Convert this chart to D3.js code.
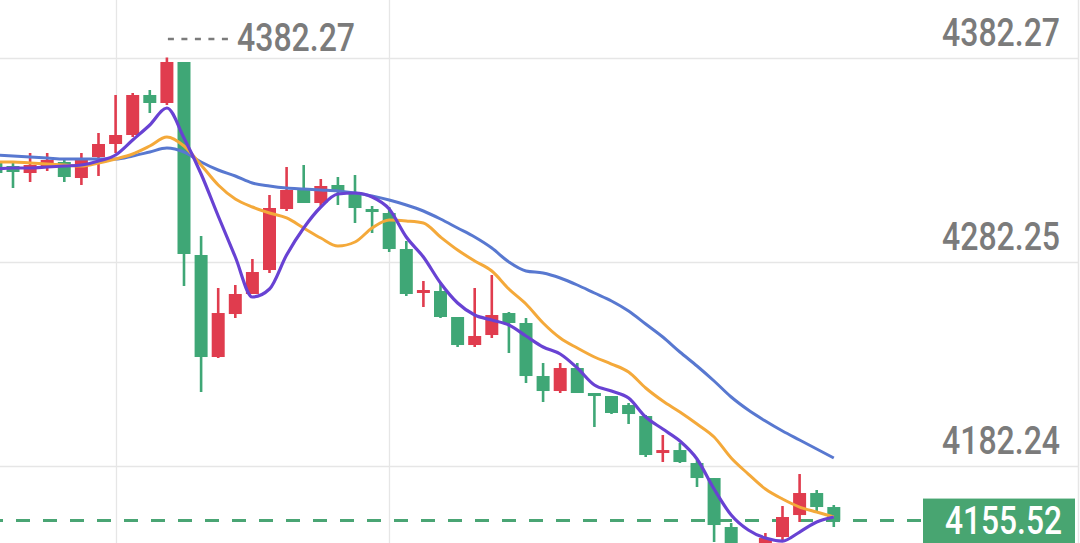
<!DOCTYPE html>
<html>
<head>
<meta charset="utf-8">
<script src="https://cdn.jsdelivr.net/npm/d3@7"></script>
<style>
  html, body { margin: 0; padding: 0; background: #ffffff; overflow: hidden; }
  svg { display: block; }
  .lbl { font-family: "Roboto", "DejaVu Sans", sans-serif; }
</style>
</head>
<body>
<svg id="chart" width="1080" height="543"></svg>
<script>
// ---- Data ----
const candleOpen  = [4331.10,4329.14,4325.71,4329.14,4331.10,4323.26,4333.55,4339.91,4344.32,4363.91,4359.99,4380.07,4285.56,4235.61,4256.66,4266.46,4278.21,4308.08,4317.39,4311.02,4319.84,4316.41,4308.08,4306.12,4288.49,4266.95,4267.93,4255.20,4241.48,4246.38,4257.15,4252.26,4226.30,4218.96,4230.22,4217.98,4216.51,4212.10,4206.71,4188.60,4190.06,4183.70,4176.35,4152.36,4140.12,4133.75,4147.46,4158.23,4169.01,4162.15];
const candleHigh  = [4332.08,4330.61,4335.51,4335.51,4332.08,4335.51,4345.30,4363.91,4364.89,4366.36,4382.27,4380.07,4294.86,4269.40,4270.87,4283.60,4314.94,4328.65,4329.63,4322.77,4323.75,4324.73,4309.55,4309.06,4292.41,4272.82,4272.33,4255.20,4269.40,4275.76,4257.64,4254.71,4232.67,4232.67,4232.67,4217.98,4216.51,4213.08,4207.20,4197.41,4193.49,4185.17,4176.35,4154.32,4143.05,4149.42,4162.64,4178.31,4170.48,4163.13];
const candleLow   = [4324.24,4318.37,4321.30,4326.69,4321.30,4319.84,4324.24,4335.51,4343.34,4355.09,4359.01,4270.38,4218.47,4235.12,4254.71,4266.46,4276.74,4307.10,4311.02,4309.55,4310.04,4301.23,4296.33,4287.03,4265.48,4260.09,4254.71,4240.50,4240.50,4244.91,4237.57,4222.87,4213.57,4217.98,4217.98,4201.33,4207.69,4202.80,4186.64,4184.19,4183.70,4171.95,4145.01,4136.20,4128.85,4130.32,4145.99,4154.81,4159.70,4152.36];
const candleClose = [4325.71,4326.20,4329.63,4332.08,4323.75,4333.06,4339.91,4344.32,4363.91,4359.99,4380.07,4286.05,4235.61,4257.15,4266.46,4277.23,4308.57,4317.39,4311.02,4319.35,4316.41,4308.57,4306.61,4288.49,4266.46,4268.42,4255.20,4241.48,4245.89,4256.17,4252.26,4226.30,4218.96,4230.22,4217.98,4216.51,4208.19,4207.69,4187.62,4190.06,4184.19,4176.35,4153.34,4141.09,4132.28,4146.97,4157.26,4169.01,4162.15,4155.52];

const ma5  = [4327.67,4328.16,4328.16,4328.65,4329.14,4329.63,4331.59,4334.53,4341.87,4349.22,4357.54,4342.85,4325.22,4304.65,4284.58,4264.99,4268.91,4285.56,4298.78,4309.06,4315.43,4315.92,4313.96,4308.08,4294.37,4284.58,4271.84,4262.05,4256.17,4253.73,4251.28,4245.89,4240.50,4237.08,4230.22,4221.90,4218.96,4215.53,4206.22,4200.35,4194.47,4185.66,4170.97,4158.23,4150.89,4146.97,4145.50,4149.91,4154.81,4157.26];
const ma10 = [4331.10,4331.10,4330.61,4330.12,4329.63,4329.14,4330.61,4332.57,4335.02,4338.93,4343.34,4338.93,4329.63,4319.84,4312.98,4309.06,4306.12,4303.68,4298.78,4293.88,4289.96,4291.92,4298.78,4302.70,4302.21,4301.23,4294.37,4288.00,4282.62,4277.72,4268.91,4261.56,4252.26,4244.91,4240.01,4235.61,4232.18,4228.26,4220.43,4214.06,4208.67,4202.80,4196.43,4186.15,4178.31,4170.97,4166.07,4162.15,4159.70,4157.26];
const ma20 = [4334.53,4334.04,4333.55,4333.06,4332.57,4332.57,4332.57,4332.57,4334.04,4336.00,4337.95,4336.00,4331.10,4327.18,4324.24,4320.81,4319.35,4318.37,4317.88,4317.39,4316.90,4315.92,4314.45,4312.49,4310.04,4307.10,4303.19,4298.78,4294.37,4288.98,4282.13,4277.72,4276.74,4274.29,4270.87,4266.95,4263.03,4258.13,4251.77,4245.40,4238.06,4231.20,4223.86,4216.02,4209.65,4204.27,4199.37,4194.96,4190.56,4186.15];

const yTickValues = [4382.27, 4282.25, 4182.24];
const yTickLabels = ["4382.27", "4282.25", "4182.24"];
const peakLabel = "4382.27";
const peakIndex = 10;
const lastPrice = 4155.52;
const lastPriceLabel = "4155.52";
const vGridIndex = [7, 23];

// ---- Drawing ----
const W = 1080, H = 543;
const svg = d3.select("#chart");
const n = candleOpen.length;
const idx = d3.range(n);

const x = d3.scaleLinear().domain([0, n - 1]).range([-4.1, -4.1 + 17.1 * (n - 1)]);
const y = d3.scaleLinear().domain([4182.24, 4382.27]).range([466, 57.5]);

const RED = "#e03c4e", GREEN = "#3fa776";
const GRID = "#e6e6e6", TEXT = "#7b7b7b";
const LABEL_W = 118;

// grid lines
svg.append("g").selectAll("line").data(yTickValues).join("line")
  .attr("x1", 0).attr("x2", 1078)
  .attr("y1", d => Math.round(y(d)) + 0.5).attr("y2", d => Math.round(y(d)) + 0.5)
  .attr("stroke", GRID).attr("stroke-width", 1.3);
svg.append("g").selectAll("line").data(vGridIndex).join("line")
  .attr("x1", d => Math.round(x(d)) + 0.5).attr("x2", d => Math.round(x(d)) + 0.5)
  .attr("y1", 0).attr("y2", H)
  .attr("stroke", GRID).attr("stroke-width", 1.3);
svg.append("line").attr("x1", 1078.5).attr("x2", 1078.5).attr("y1", 0).attr("y2", H)
  .attr("stroke", GRID).attr("stroke-width", 1.5);

// last price dashed line
svg.append("line")
  .attr("x1", 0).attr("x2", 923)
  .attr("y1", y(lastPrice)).attr("y2", y(lastPrice))
  .attr("stroke", "#4aa574").attr("stroke-width", 3)
  .attr("stroke-dasharray", "14,13").attr("stroke-dashoffset", 11);

// candles
const bodyW = 13;
const cg = svg.append("g");
const col = i => candleClose[i] >= candleOpen[i] ? RED : GREEN;
cg.selectAll("line.wick").data(idx).join("line").attr("class", "wick")
  .attr("x1", i => x(i)).attr("x2", i => x(i))
  .attr("y1", i => y(candleHigh[i])).attr("y2", i => y(candleLow[i]))
  .attr("stroke", col).attr("stroke-width", 2.6);
cg.selectAll("rect.body").data(idx).join("rect").attr("class", "body")
  .attr("x", i => x(i) - bodyW / 2)
  .attr("width", bodyW)
  .attr("y", i => y(Math.max(candleOpen[i], candleClose[i])))
  .attr("height", i => Math.max(2.5, Math.abs(y(candleOpen[i]) - y(candleClose[i]))))
  .attr("fill", col);

// moving average lines
const mkLine = arr => d3.line().x((d, i) => x(i)).y(d => y(d)).curve(d3.curveMonotoneX)(arr);
svg.append("path").attr("d", mkLine(ma20)).attr("fill", "none")
  .attr("stroke", "#5878d0").attr("stroke-width", 3).attr("stroke-linejoin", "round");
svg.append("path").attr("d", mkLine(ma10)).attr("fill", "none")
  .attr("stroke", "#f4a93a").attr("stroke-width", 3).attr("stroke-linejoin", "round");
svg.append("path").attr("d", mkLine(ma5)).attr("fill", "none")
  .attr("stroke", "#6842d3").attr("stroke-width", 3.2).attr("stroke-linejoin", "round");

// helper: draw a horizontally condensed text whose right edge is at xr and width is w
function condensedText(g, str, xr, yb, w, fill) {
  const t = g.append("text").attr("class", "lbl")
    .attr("font-size", 38).attr("font-weight", 500)
    .attr("text-anchor", "end")
    .attr("fill", fill)
    .text(str);
  const natural = t.node().getComputedTextLength() || w;
  const s = w / natural;
  t.attr("transform", `translate(${xr},${yb}) scale(${s},1)`);
  return t;
}

// y labels (right)
const lg = svg.append("g");
yTickValues.forEach((v, i) => condensedText(lg, yTickLabels[i], 1060, y(v) - 12, LABEL_W, TEXT));

// peak annotation
const peakY = 39;
svg.append("line")
  .attr("x1", x(peakIndex) + 1).attr("x2", 229)
  .attr("y1", peakY).attr("y2", peakY)
  .attr("stroke", TEXT).attr("stroke-width", 2.4)
  .attr("stroke-dasharray", "6,7.5");
condensedText(svg, peakLabel, 237 + LABEL_W, 51, LABEL_W, TEXT);

// last price box
svg.append("rect")
  .attr("x", 923).attr("y", y(lastPrice) - 22)
  .attr("width", 152).attr("height", 46)
  .attr("fill", "#48a571");
condensedText(svg, lastPriceLabel, 1062, y(lastPrice) + 13, 117, "#ffffff");
</script>
</body>
</html>
